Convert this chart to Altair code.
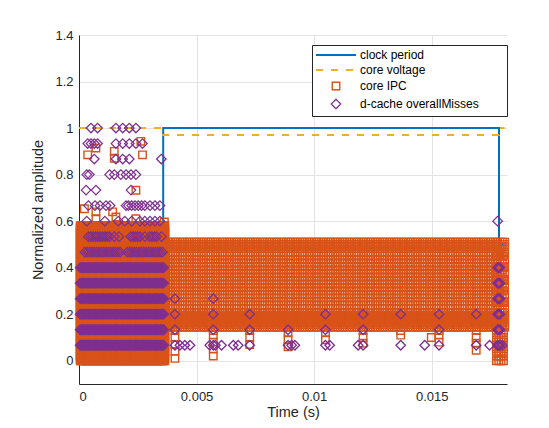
import altair as alt
import pandas as pd

# ---------------- data ----------------
SERIES = ["clock period", "core voltage", "core IPC", "d-cache overallMisses"]
COLORS = ["#0072BD", "#EDB120", "#D95319", "#7E2F8E"]

# step lines (time in s, normalized value)
CLOCK_T = [0.0, 0.00358, 0.00358, 0.01786, 0.01786, 0.0181]
CLOCK_V = [0.5, 0.5, 1.0, 1.0, 0.5, 0.5]
VOLT_T = [0.0, 0.00358, 0.00358, 0.01786, 0.01786, 0.0181]
VOLT_V = [1.0, 1.0, 0.97, 0.97, 1.0, 1.0]

# core IPC: dense block during the first phase (time in ms)
T_LEFT_MS = [0.05, 0.15, 0.25, 0.35, 0.45, 0.55, 0.65, 0.75, 0.85, 0.95, 1.05, 1.15,
             1.25, 1.35, 1.45, 1.55, 1.65, 1.75, 1.85, 1.95, 2.05, 2.15, 2.25, 2.35,
             2.45, 2.55, 2.65, 2.75, 2.85, 2.95, 3.05, 3.15, 3.25, 3.35, 3.45, 3.55, 3.65]
T_LEFT_B_MS = [0.1, 0.2, 0.3, 0.4, 0.5, 0.6, 0.7, 0.8, 0.9, 1.0, 1.1, 1.2, 1.3, 1.4,
               1.5, 1.6, 1.7, 1.8, 1.9, 2.0, 2.1, 2.2, 2.3, 2.4, 2.5, 2.6, 2.7, 2.8,
               2.9, 3.0, 3.1, 3.2, 3.3, 3.4, 3.5, 3.6]
IPC_LEFT_LEVELS = [0.0, 0.02, 0.04, 0.06, 0.08, 0.1, 0.12, 0.14, 0.16, 0.18, 0.2, 0.22,
                   0.24, 0.26, 0.28, 0.3, 0.32, 0.34, 0.36, 0.38, 0.4, 0.42, 0.44, 0.46,
                   0.48, 0.5, 0.52, 0.54, 0.56, 0.58]
IPC_LEFT_LEVELS_B = [0.01, 0.03, 0.05, 0.07, 0.09, 0.11, 0.13, 0.15, 0.17, 0.19, 0.21,
                     0.23, 0.25, 0.27, 0.29, 0.31, 0.33, 0.35, 0.37, 0.39, 0.41, 0.43,
                     0.45, 0.47, 0.49, 0.51, 0.53, 0.55, 0.57]
IPC_LEFT_SPARSE_T_MS = [2.63, 2.70, 0.37, 0.72, 1.50, 1.50, 2.42, 0.23, 0.72, 1.43, 1.57,
                        2.42, 0.72, 3.63, 1.29, 3.20]
IPC_LEFT_SPARSE_V = [0.943, 0.885, 0.885, 0.914, 0.90, 0.87, 0.733, 0.653, 0.64, 0.64,
                     0.618, 0.61, 0.61, 0.596, 0.58, 0.58]

# core IPC: second phase (time in ms)
T_RIGHT_MS = [3.7, 3.8, 3.9, 4.0, 4.1, 4.2, 4.3, 4.4, 4.5, 4.6, 4.7, 4.8, 4.9, 5.0,
              5.1, 5.2, 5.3, 5.4, 5.5, 5.6, 5.7, 5.8, 5.9, 6.0, 6.1, 6.2, 6.3, 6.4,
              6.5, 6.6, 6.7, 6.8, 6.9, 7.0, 7.1, 7.2, 7.3, 7.4, 7.5, 7.6, 7.7, 7.8,
              7.9, 8.0, 8.1, 8.2, 8.3, 8.4, 8.5, 8.6, 8.7, 8.8, 8.9, 9.0, 9.1, 9.2,
              9.3, 9.4, 9.5, 9.6, 9.7, 9.8, 9.9, 10.0, 10.1, 10.2, 10.3, 10.4, 10.5,
              10.6, 10.7, 10.8, 10.9, 11.0, 11.1, 11.2, 11.3, 11.4, 11.5, 11.6, 11.7,
              11.8, 11.9, 12.0, 12.1, 12.2, 12.3, 12.4, 12.5, 12.6, 12.7, 12.8, 12.9,
              13.0, 13.1, 13.2, 13.3, 13.4, 13.5, 13.6, 13.7, 13.8, 13.9, 14.0, 14.1,
              14.2, 14.3, 14.4, 14.5, 14.6, 14.7, 14.8, 14.9, 15.0, 15.1, 15.2, 15.3,
              15.4, 15.5, 15.6, 15.7, 15.8, 15.9, 16.0, 16.1, 16.2, 16.3, 16.4, 16.5,
              16.6, 16.7, 16.8, 16.9, 17.0, 17.1, 17.2, 17.3, 17.4, 17.5, 17.6, 17.7,
              17.8, 17.9, 18.0, 18.1]
IPC_TOP_BAND = [0.49, 0.5, 0.51]
IPC_MID_EVEN = [0.225, 0.255, 0.285, 0.315, 0.345, 0.375, 0.405, 0.435, 0.465]
IPC_MID_ODD = [0.24, 0.27, 0.3, 0.33, 0.36, 0.39, 0.42, 0.45]
IPC_LOW_BAND = [0.145, 0.155, 0.165, 0.175, 0.185, 0.195, 0.205]
SPIKE_T_MS = [4.08, 5.71, 7.26, 8.89, 10.48, 12.08, 13.68, 14.98, 15.31, 16.89]
SPIKE_V = [[0.01, 0.04, 0.07, 0.1, 0.13], [0.02, 0.05, 0.08, 0.11, 0.13],
           [0.07, 0.1, 0.13], [0.06, 0.09, 0.12], [0.09, 0.12], [0.075, 0.1, 0.13],
           [0.11, 0.13], [0.1], [0.08, 0.11, 0.13], [0.045, 0.075, 0.1, 0.13]]
EDGE_T_MS = [17.75, 17.85, 17.95, 18.05]
EDGE_V = [0.0, 0.02, 0.04, 0.06, 0.08, 0.1, 0.12, 0.25, 0.3, 0.35, 0.4, 0.45]

# d-cache overallMisses (levels are multiples of 1/15)
MISS_SOLID_LEVELS = [0.0667, 0.1333, 0.2, 0.2667, 0.3333, 0.4]
MISS_ROWS = {
    0.4667: [0.25, 0.35, 0.45, 0.55, 0.65, 0.75, 0.85, 0.95, 1.05, 1.15, 1.25, 1.35,
             1.45, 1.55, 1.65, 1.75, 2.05, 2.15, 2.25, 2.35, 2.45, 2.55, 2.65, 2.75,
             2.85, 2.95, 3.05, 3.15, 3.25, 3.35, 3.45, 3.55],
    0.5333: [0.4, 0.5, 0.6, 0.7, 0.8, 0.9, 1.0, 1.1, 1.2, 1.3, 1.5, 1.7, 2.2, 2.3,
             2.4, 2.5, 2.6, 2.8, 3.0, 3.1, 3.2, 3.3, 3.5],
    0.6: [0.33, 1.1, 1.67, 1.95, 2.24, 2.59, 2.8, 3.02, 3.23, 3.44, 17.8],
    0.6667: [0.4, 0.68, 0.89, 1.15, 1.32, 2.0, 2.1, 2.24, 2.38, 2.52, 2.66, 2.8, 3.02,
             3.23, 3.44],
    0.7333: [0.3, 0.72, 2.21],
    0.8: [0.33, 0.44, 1.3, 1.5, 1.78, 2.0, 2.21, 2.42],
    0.8667: [0.65, 1.57, 1.86, 2.14, 3.5],
    0.9333: [0.37, 0.51, 0.65, 0.79, 1.57, 1.86, 2.14, 2.42, 2.7],
    1.0: [0.51, 0.79, 1.57, 1.86, 2.14, 2.42],
}
MISS_SPIKE_T_MS = [4.08, 5.71, 7.26, 8.89, 10.48, 12.08, 13.68, 15.31, 16.89]
MISS_SPIKE_V = [[0.0667, 0.1333, 0.2, 0.2667], [0.0667, 0.1333, 0.2, 0.2667],
                [0.0667, 0.1333, 0.2], [0.0667, 0.1333], [0.0667, 0.1333, 0.2],
                [0.0667, 0.1333, 0.2], [0.0667, 0.2], [0.0667, 0.1333, 0.2], [0.0667, 0.2]]
MISS_LOW_T_MS = [4.29, 4.5, 4.72, 5.56, 5.8, 6.06, 6.56, 6.77, 9.04, 9.18, 10.66, 11.87,
                 14.7, 17.46, 18.0]
MISS_EDGE_T_MS = [17.8, 17.85, 17.9]
MISS_EDGE_V = [0.0667, 0.1333, 0.2, 0.2667, 0.3333, 0.4]

X_TICKS = [0, 0.005, 0.01, 0.015]
Y_TICKS = [0, 0.2, 0.4, 0.6, 0.8, 1.0, 1.2, 1.4]

# ---------------- build tables ----------------
line_rows = []
for i, (t, v) in enumerate(zip(CLOCK_T, CLOCK_V)):
    line_rows.append((t, v, SERIES[0], i))
for i, (t, v) in enumerate(zip(VOLT_T, VOLT_V)):
    line_rows.append((t, v, SERIES[1], i))
lines_df = pd.DataFrame(line_rows, columns=["t", "v", "series", "idx"])

ipc, miss = SERIES[2], SERIES[3]
pts = []
for t in T_LEFT_MS + T_LEFT_B_MS:
    for v in IPC_LEFT_LEVELS + IPC_LEFT_LEVELS_B:
        pts.append((t / 1000, v, ipc))
for t, v in zip(IPC_LEFT_SPARSE_T_MS, IPC_LEFT_SPARSE_V):
    pts.append((t / 1000, v, ipc))
for t in T_RIGHT_MS:
    for v in IPC_TOP_BAND + IPC_LOW_BAND:
        pts.append((t / 1000, v, ipc))
for k, t in enumerate(T_RIGHT_MS):
    for v in (IPC_MID_EVEN if k % 2 == 0 else IPC_MID_ODD):
        pts.append((t / 1000, v, ipc))
for t, vs in zip(SPIKE_T_MS, SPIKE_V):
    for v in vs:
        pts.append((t / 1000, v, ipc))
for t in EDGE_T_MS:
    for v in EDGE_V:
        pts.append((t / 1000, v, ipc))
# misses drawn after IPC
for t in T_LEFT_MS[:-1] + T_LEFT_B_MS:
    for v in MISS_SOLID_LEVELS:
        pts.append((t / 1000, v, miss))
for v, ts in MISS_ROWS.items():
    for t in ts:
        pts.append((t / 1000, v, miss))
for t, vs in zip(MISS_SPIKE_T_MS, MISS_SPIKE_V):
    for v in vs:
        pts.append((t / 1000, v, miss))
for t in MISS_LOW_T_MS:
    pts.append((t / 1000, 0.0667, miss))
for t in MISS_EDGE_T_MS:
    for v in MISS_EDGE_V:
        pts.append((t / 1000, v, miss))
pts_df = pd.DataFrame(pts, columns=["t", "v", "series"])

# ---------------- chart ----------------
FONT = "Liberation Sans"
TXT = "#262626"

xscale = alt.Scale(domain=[0, 0.0182], nice=False, zero=False)
yscale = alt.Scale(domain=[-0.1, 1.4], nice=False, zero=False)
xaxis = alt.Axis(title="Time (s)", values=X_TICKS, format="~g", grid=True, ticks=False,
                 labelPadding=6, titlePadding=2)
yaxis = alt.Axis(title="Normalized amplitude", values=Y_TICKS, format="~g", grid=True,
                 ticks=False, labelPadding=6, titlePadding=9)

legend = alt.Legend(title=None, orient="none", legendX=233, legendY=10,
                    fillColor="white", strokeColor=TXT, padding=4, rowPadding=3,
                    labelFontSize=12, labelFont=FONT, labelColor="black", labelOffset=18,
                    symbolStrokeWidth=1.5, symbolOffset=14,
                    labelExpr="datum.label + '\u2003\u2003\u200b'")

LINE_SYMBOL = "M-4,0L4,0"
color = alt.Color("series:N", scale=alt.Scale(domain=SERIES, range=COLORS), legend=legend)
dash = alt.StrokeDash("series:N", scale=alt.Scale(domain=SERIES, range=[[1, 0], [7, 8], [1, 0], [1, 0]]),
                      legend=legend)
swidth = alt.StrokeWidth("series:N", scale=alt.Scale(type="ordinal", domain=SERIES, range=[2, 2, 1.4, 1.3]),
                         legend=legend)
shape = alt.Shape("series:N", scale=alt.Scale(domain=SERIES, range=[LINE_SYMBOL, LINE_SYMBOL, "square", "diamond"]),
                  legend=legend)
size = alt.Size("series:N", scale=alt.Scale(type="ordinal", domain=SERIES, range=[100, 100, 56, 90]),
                legend=legend)

lines = alt.Chart(lines_df).mark_line().encode(
    x=alt.X("t:Q", scale=xscale, axis=xaxis),
    y=alt.Y("v:Q", scale=yscale, axis=yaxis),
    color=color,
    strokeDash=dash,
    strokeWidth=swidth,
    detail="series:N",
    order="idx:Q",
)

points = alt.Chart(pts_df).mark_point(filled=False, opacity=1).encode(
    x=alt.X("t:Q", scale=xscale, axis=xaxis),
    y=alt.Y("v:Q", scale=yscale, axis=yaxis),
    color=color,
    shape=shape,
    size=size,
    strokeWidth=swidth,
)

chart = alt.layer(lines, points).properties(
    width=428, height=349, autosize="none",
    padding={"left": 79, "top": 35, "right": 42, "bottom": 44},
    background="white",
).configure_view(stroke=None).configure_axis(
    labelFont=FONT, titleFont=FONT, labelFontSize=13, titleFontSize=14.5,
    titleFontWeight="normal", labelColor=TXT, titleColor=TXT,
    domainColor=TXT, gridColor="#e3e3e3", domainWidth=1,
)

chart.save("out.html", embed_options={"renderer": "svg", "actions": False})
